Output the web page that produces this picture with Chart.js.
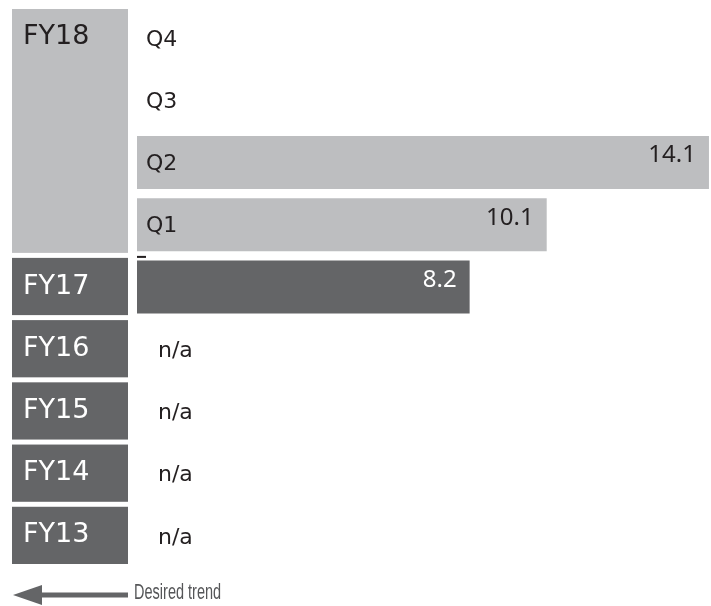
<!DOCTYPE html>
<html>
<head>
<meta charset="utf-8">
<script src="https://cdn.jsdelivr.net/npm/chart.js@4/dist/chart.umd.min.js"></script>
<style>
  html, body { margin: 0; padding: 0; background: #fff; }
  #wrap { width: 711px; height: 606px; }
</style>
</head>
<body>
<div id="wrap"><canvas id="trend"></canvas></div>
<script>
const rows = ['Q4', 'Q3', 'Q2', 'Q1', 'FY17', 'FY16', 'FY15', 'FY14', 'FY13'];
const rowNames = ['Q4', 'Q3', 'Q2', 'Q1', '', 'n/a', 'n/a', 'n/a', 'n/a'];
const values = [null, null, 14.1, 10.1, 8.2, null, null, null, null];
const valueText = ['', '', '14.1', '10.1', '8.2', '', '', '', ''];
// year boxes on the left: label, first row, last row
const yearGroups = [
  ['FY18', 0, 3],
  ['FY17', 4, 4],
  ['FY16', 5, 5],
  ['FY15', 6, 6],
  ['FY14', 7, 7],
  ['FY13', 8, 8]
];

const LIGHT = '#bdbec0';
const DARK = '#646567';
const INK = '#231f20';
const FONT = '"DejaVu Sans", sans-serif';
const NUM_FONT = '"Noto Sans", sans-serif';

const barColors = rows.map(r => r.startsWith('Q') ? LIGHT : DARK);

const sidePlugin = {
  id: 'sideBoxes',
  afterDatasetsDraw(chart) {
    const { ctx, scales: { y }, chartArea } = chart;
    const step = y.getPixelForValue(1) - y.getPixelForValue(0);
    ctx.save();

    // year boxes
    yearGroups.forEach(([label, a, b]) => {
      const top = y.getPixelForValue(a) - step / 2 + 2;
      const bottom = y.getPixelForValue(b) + step / 2 - 3;
      const light = a === 0;
      ctx.fillStyle = light ? LIGHT : DARK;
      ctx.fillRect(12, top, 116, bottom - top);
      ctx.fillStyle = light ? INK : '#fff';
      ctx.font = '27px ' + FONT;
      ctx.textAlign = 'left';
      ctx.textBaseline = 'middle';
      const ty = light ? top + 28 : (top + bottom) / 2;
      ctx.fillText(label, 23, ty);
    });

    // small dash between Q1 and FY17
    const q1Bottom = y.getPixelForValue(3) + step / 2;
    ctx.fillStyle = INK;
    ctx.fillRect(chartArea.left, q1Bottom, 9, 2);

    // row names inside / beside the bars
    ctx.font = '22px ' + FONT;
    ctx.fillStyle = INK;
    ctx.textBaseline = 'middle';
    rowNames.forEach((name, i) => {
      if (!name) return;
      const py = y.getPixelForValue(i);
      const x = name === 'n/a' ? chartArea.left + 21 : chartArea.left + 9;
      ctx.fillText(name, x, py + 2);
    });

    // value labels at the bar ends
    const meta = chart.getDatasetMeta(0);
    ctx.font = '24px ' + NUM_FONT;
    ctx.textAlign = 'right';
    meta.data.forEach((bar, i) => {
      if (!valueText[i]) return;
      ctx.fillStyle = rows[i].startsWith('Q') ? INK : '#fff';
      ctx.fillText(valueText[i], bar.x - 13, bar.y - 7);
    });

    // trend arrow
    const ay = 595;
    ctx.fillStyle = DARK;
    ctx.beginPath();
    ctx.moveTo(13, ay);
    ctx.lineTo(42, ay - 10);
    ctx.lineTo(42, ay + 10);
    ctx.closePath();
    ctx.fill();
    ctx.fillRect(40, ay - 2.5, 88, 5);

    // condensed caption
    ctx.fillStyle = '#555658';
    ctx.font = '22px "Liberation Sans", sans-serif';
    ctx.textAlign = 'left';
    ctx.translate(134, ay - 2);
    ctx.scale(0.66, 1);
    ctx.fillText('Desired trend', 0, 0);
    ctx.restore();
  }
};

new Chart(document.getElementById('trend'), {
  type: 'bar',
  data: {
    labels: rows,
    datasets: [{
      data: values,
      backgroundColor: barColors,
      borderWidth: 0,
      barPercentage: 0.85,
      categoryPercentage: 1
    }]
  },
  options: {
    indexAxis: 'y',
    responsive: true,
    maintainAspectRatio: false,
    animation: false,
    layout: { padding: { left: 137, right: 0, top: 7, bottom: 39 } },
    plugins: { legend: { display: false }, tooltip: { enabled: false } },
    scales: {
      x: { display: false, min: 0, max: 14.15 },
      y: { display: false }
    }
  },
  plugins: [sidePlugin]
});
</script>
</body>
</html>
